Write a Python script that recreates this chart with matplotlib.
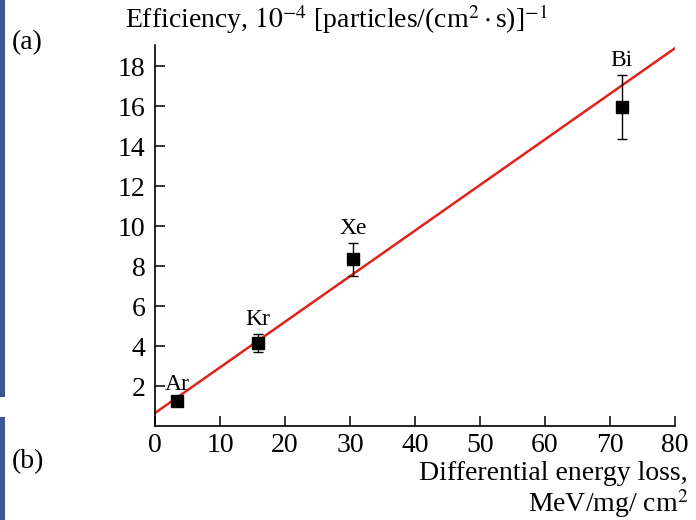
import numpy as np
import matplotlib.pyplot as plt
from matplotlib.patches import Rectangle

plt.rcParams['font.family'] = ['Liberation Serif', 'DejaVu Serif']
plt.rcParams['mathtext.fontset'] = 'stix'

# measured points
ions = ["Ar", "Kr", "Xe", "Bi"]
let_vals = [3.4, 15.8, 30.5, 71.8]
eff = [1.25, 4.15, 8.35, 15.95]
err_lo = [0.1, 0.45, 0.85, 1.6]
err_hi = [0.1, 0.45, 0.8, 1.6]

# linear fit
fit_a = 0.65
fit_b = 0.228

xticks = [0, 10, 20, 30, 40, 50, 60, 70, 80]
yticks = [2, 4, 6, 8, 10, 12, 14, 16, 18]

fig = plt.figure(figsize=(6.96, 5.2), dpi=100)
ax = fig.add_axes([155/696, 1 - 426/520, (675-155)/696, (426-45)/520])

xx = np.array([0, 80])
ax.plot(xx, fit_a + fit_b*xx, color='#e0231a', lw=1.8, zorder=2)

ax.errorbar(let_vals, eff, yerr=[err_lo, err_hi], fmt='s', color='black',
            ms=8, ecolor='black', elinewidth=1.0, capsize=3.5, capthick=1.0, zorder=3)

for name, x, y, e in zip(ions, let_vals, eff, err_hi):
    ax.annotate(name, (x, y + e), xytext=(0, 3), textcoords='offset points',
                ha='center', va='bottom', fontsize=17)

ax.set_xlim(0, 80)
ax.set_ylim(0, 19.05)
ax.set_xticks(xticks)
ax.set_yticks(yticks)
ax.spines['top'].set_visible(False)
ax.spines['right'].set_visible(False)
for s in ['left', 'bottom']:
    ax.spines[s].set_linewidth(1.2)
ax.tick_params(direction='in', length=7, width=1.1, labelsize=20, pad=5)
ax.tick_params(axis='y', pad=7)

fig.text(125/696, 1 - 19/520, r"Efficiency, $10^{-4}$ [particles/(cm$^2\cdot$s)]$^{-1}$",
         ha='left', va='center', fontsize=20)
fig.text(688/696, 1 - 474/520, "Differential energy loss,", ha='right', va='center', fontsize=20)
fig.text(688/696, 1 - 504/520, r"MeV/mg/ cm$^2$", ha='right', va='center', fontsize=20)

fig.text(12/696, 1 - 43/520, "(a)", ha='left', va='center', fontsize=20)
fig.text(12/696, 1 - 462/520, "(b)", ha='left', va='center', fontsize=20)

# blue page strip on the left
fig.add_artist(Rectangle((0, 1 - 397/520), 5/696, 397/520, transform=fig.transFigure,
                         color='#3d5594', lw=0))
fig.add_artist(Rectangle((0, 0), 5/696, 1 - 417/520, transform=fig.transFigure,
                         color='#3d5594', lw=0))

fig.savefig("out.png", dpi=100)
